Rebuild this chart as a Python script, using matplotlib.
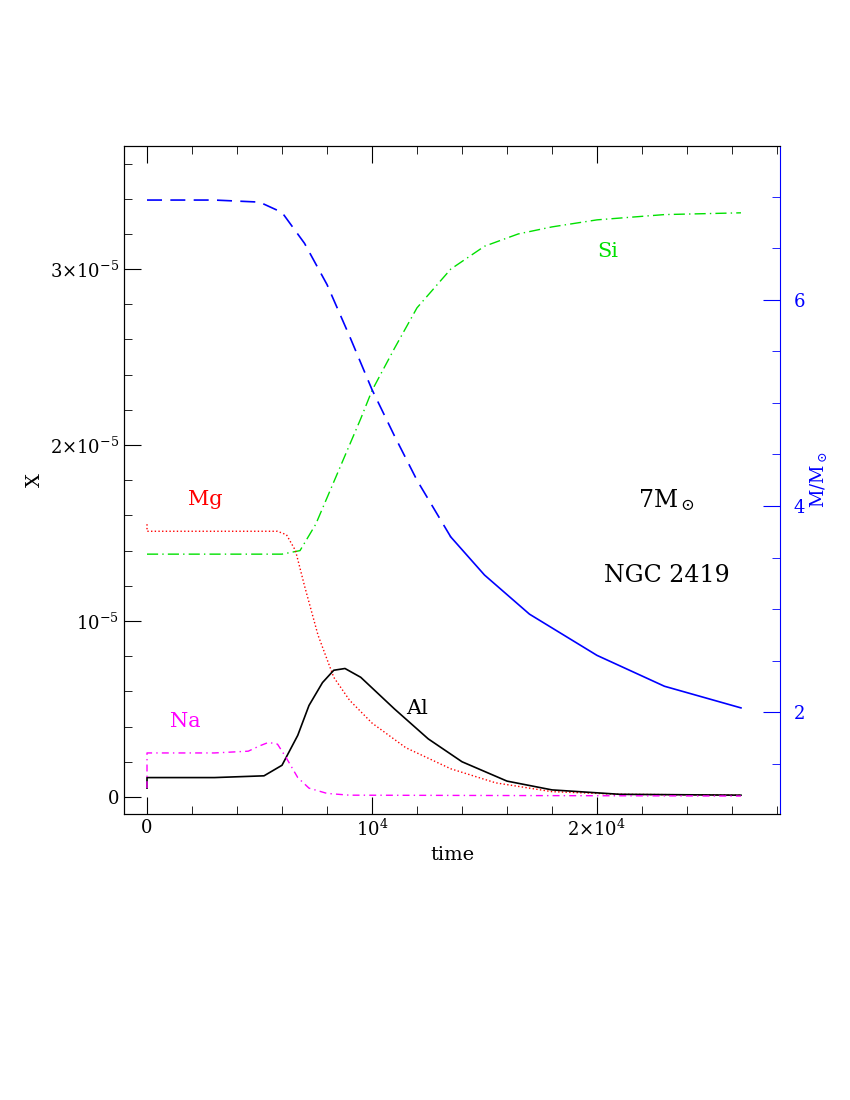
import numpy as np
import matplotlib.pyplot as plt
from matplotlib.ticker import MultipleLocator, FixedLocator

plt.rcParams['font.family'] = 'DejaVu Serif'
plt.rcParams['mathtext.fontset'] = 'dejavuserif'

# abundances (units of 1e-5) vs time
t_si = [0, 3000, 6000, 6800, 7500, 8500, 9500, 10000, 11000, 12000, 13500, 15000, 16500, 18000, 20000, 23000, 26400]
x_si = [1.38, 1.38, 1.38, 1.40, 1.55, 1.85, 2.15, 2.31, 2.55, 2.78, 3.00, 3.13, 3.20, 3.24, 3.28, 3.31, 3.32]

t_mg = [0, 0.01, 3000, 5800, 6200, 6600, 7000, 7600, 8300, 9000, 10000, 11500, 13500, 15500, 18000, 21000, 26400]
x_mg = [1.55, 1.51, 1.51, 1.51, 1.49, 1.40, 1.20, 0.92, 0.68, 0.55, 0.42, 0.28, 0.16, 0.08, 0.03, 0.015, 0.01]

t_al = [0, 0.01, 3000, 5200, 6000, 6700, 7200, 7800, 8300, 8800, 9500, 10000, 11000, 12500, 14000, 16000, 18000, 21000, 26400]
x_al = [0.05, 0.11, 0.11, 0.12, 0.18, 0.35, 0.52, 0.65, 0.72, 0.73, 0.68, 0.62, 0.50, 0.33, 0.20, 0.09, 0.04, 0.015, 0.01]

t_na = [0, 0.01, 3000, 4500, 5000, 5400, 5800, 6200, 6700, 7200, 8000, 9000, 26400]
x_na = [0.05, 0.25, 0.25, 0.26, 0.29, 0.31, 0.30, 0.22, 0.11, 0.05, 0.02, 0.01, 0.005]

# total mass (Msun)
t_m = [0, 3000, 5000, 6000, 7000, 8000, 9000, 10000, 11000, 12000, 13500, 15000, 17000, 20000, 23000, 26400]
m_m = [6.97, 6.97, 6.95, 6.85, 6.55, 6.15, 5.65, 5.13, 4.68, 4.25, 3.70, 3.33, 2.95, 2.55, 2.25, 2.04]
t_split = 14500

fig = plt.figure(figsize=(8.5, 11), dpi=100)
ax = fig.add_axes([0.1459, 0.26, 0.7717, 0.6073])

ax.plot(t_si, np.array(x_si) * 1e-5, color='#00e000', lw=1, dashes=[8, 3, 1, 3])
ax.plot(t_mg, np.array(x_mg) * 1e-5, color='red', lw=1, ls=':')
ax.plot(t_al, np.array(x_al) * 1e-5, color='black', lw=1.2)
ax.plot(t_na, np.array(x_na) * 1e-5, color='magenta', lw=1, dashes=[5, 3, 1, 3])

ax.set_xlim(-1022, 28133)
ax.set_ylim(-0.097e-5, 3.70e-5)
ax.xaxis.set_major_locator(FixedLocator([0, 1e4, 2e4]))
ax.xaxis.set_minor_locator(MultipleLocator(2000))
ax.set_xticklabels(['0', r'$10^4$', r'$2{\times}10^4$'])
ax.yaxis.set_major_locator(FixedLocator([0, 1e-5, 2e-5, 3e-5]))
ax.yaxis.set_minor_locator(MultipleLocator(0.2e-5))
ax.set_yticklabels(['0', r'$10^{-5}$', r'$2{\times}10^{-5}$', r'$3{\times}10^{-5}$'])
ax.tick_params(which='both', direction='in', top=True, right=False, labelsize=13)
ax.tick_params(which='major', length=12)
ax.tick_params(which='minor', length=6)
ax.set_xlabel('time', fontsize=14)
ax.set_ylabel('X', fontsize=14)
ax.spines['right'].set_visible(False)

ax2 = ax.twinx()
tm = np.array(t_m)
mm = np.array(m_m)
pre = tm <= t_split
ax2.plot(tm[pre], mm[pre], color='blue', lw=1.2, dashes=[9, 5])
post = tm >= 13500
ax2.plot(tm[post], mm[post], color='blue', lw=1.2)
ax2.set_ylim(1.01, 7.495)
ax2.yaxis.set_major_locator(FixedLocator([2, 4, 6]))
ax2.yaxis.set_minor_locator(MultipleLocator(0.5))
ax2.tick_params(which='both', direction='in', colors='blue', labelsize=13, pad=10)
ax2.tick_params(which='major', length=12)
ax2.tick_params(which='minor', length=6)
ax2.spines['right'].set_color('blue')
ax2.set_ylabel(r'M/M$_\odot$', color='blue', fontsize=13, labelpad=2)

ax.text(2600, 1.66e-5, 'Mg', color='red', fontsize=15, ha='center')
ax.text(1700, 0.40e-5, 'Na', color='magenta', fontsize=15, ha='center')
ax.text(20500, 3.07e-5, 'Si', color='#00e000', fontsize=15, ha='center')
ax.text(12000, 0.47e-5, 'Al', color='black', fontsize=15, ha='center')
ax.text(23100, 1.65e-5, r'7M$_\odot$', fontsize=17, ha='center')
ax.text(23100, 1.22e-5, 'NGC 2419', fontsize=17, ha='center')

fig.savefig('out.png', dpi=100)
